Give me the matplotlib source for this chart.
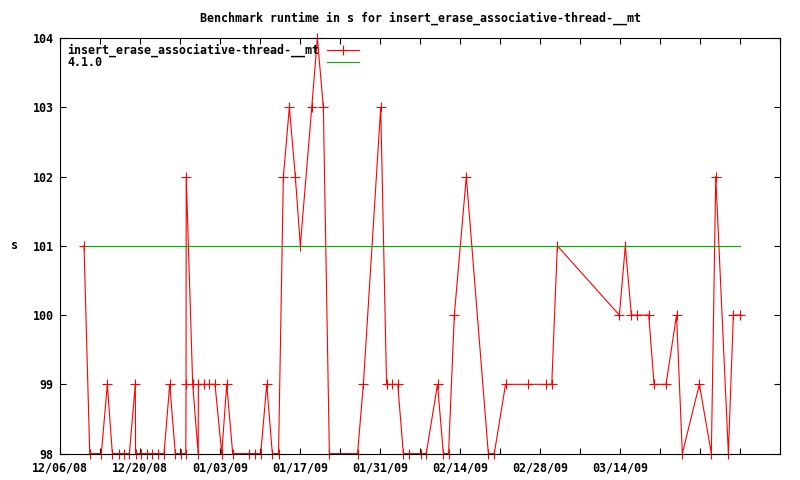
import matplotlib
matplotlib.use('Agg')
import matplotlib.pyplot as plt
import pandas as pd

# runtime samples (s)
dates = ['2008-12-10 03:30', '2008-12-11 03:30', '2008-12-13 04:15', '2008-12-14 05:30',
         '2008-12-15 02:30', '2008-12-16 05:15', '2008-12-17 03:30', '2008-12-18 02:00',
         '2008-12-19 03:00', '2008-12-19 04:00', '2008-12-20 04:15', '2008-12-21 03:00',
         '2008-12-22 02:30', '2008-12-23 03:30', '2008-12-24 03:30', '2008-12-25 03:30',
         '2008-12-26 03:00', '2008-12-27 03:00', '2008-12-27 23:00', '2008-12-28 00:00',
         '2008-12-28 00:45', '2008-12-29 04:00', '2008-12-30 03:00', '2008-12-30 03:40',
         '2008-12-31 03:30', '2009-01-01 02:00', '2009-01-02 01:40', '2009-01-03 06:00',
         '2009-01-04 03:00', '2009-01-05 04:00', '2009-01-08 02:00', '2009-01-09 02:40',
         '2009-01-10 01:40', '2009-01-11 03:00', '2009-01-12 02:30', '2009-01-13 04:30',
         '2009-01-14 00:45', '2009-01-15 02:00', '2009-01-16 03:00', '2009-01-17 00:00',
         '2009-01-19 00:00', '2009-01-19 23:30', '2009-01-21 00:45', '2009-01-22 02:00',
         '2009-01-27 00:15', '2009-01-28 00:45', '2009-01-31 01:40', '2009-02-01 02:10',
         '2009-02-02 02:30', '2009-02-03 01:10', '2009-02-04 00:45', '2009-02-05 02:00',
         '2009-02-07 01:40', '2009-02-08 00:45', '2009-02-10 00:15', '2009-02-11 00:45',
         '2009-02-11 22:30', '2009-02-12 22:50', '2009-02-15 01:10', '2009-02-18 21:40',
         '2009-02-19 22:30', '2009-02-21 22:00', '2009-02-25 21:40', '2009-02-28 22:50',
         '2009-03-02 00:00', '2009-03-02 23:30', '2009-03-13 20:00', '2009-03-14 21:00',
         '2009-03-15 22:20', '2009-03-16 23:30', '2009-03-18 23:20', '2009-03-19 21:40',
         '2009-03-22 00:00', '2009-03-23 20:10', '2009-03-24 20:25', '2009-03-27 20:00',
         '2009-03-29 22:20', '2009-03-30 16:50', '2009-04-01 21:50', '2009-04-02 18:40',
         '2009-04-03 21:40']
runtime = [101, 98, 98, 99,
           98, 98, 98, 98,
           99, 98, 98, 98,
           98, 98, 98, 99,
           98, 98, 98, 99,
           102, 99, 98, 99,
           99, 99, 99, 98,
           99, 98, 98, 98,
           98, 99, 98, 98,
           102, 103, 102, 101,
           103, 104, 103, 98,
           98, 99, 103, 99,
           99, 99, 98, 98,
           98, 98, 99, 98,
           98, 100, 102, 98,
           98, 99, 99, 99,
           99, 101, 100, 101,
           100, 100, 100, 99,
           99, 100, 98, 99,
           98, 102, 98, 100,
           100]

# reference version 4.1.0
ref_dates = ['2008-12-10 03:30', '2009-04-03 21:40']
ref_runtime = [101, 101]

xtick_dates = pd.date_range('2008-12-06', '2009-04-11', freq='7D')
xtick_labels = ['12/06/08', '', '12/20/08', '', '01/03/09', '', '01/17/09', '',
                '01/31/09', '', '02/14/09', '', '02/28/09', '', '03/14/09', '', '', '', '']
yticks = [98, 99, 100, 101, 102, 103, 104]

font = {'family': 'DejaVu Sans Mono', 'weight': 'bold', 'size': 8.4}

fig = plt.figure(figsize=(8, 4.8), dpi=100)
ax = fig.add_axes([0.0754, 0.055, 0.9, 0.8658])

ax.plot(pd.to_datetime(dates), runtime, color='#ff0000', lw=0.8, marker='+',
        ms=6.5, mew=0.8, clip_on=False)
ax.plot(pd.to_datetime(ref_dates), ref_runtime, color='#00b000', lw=0.8)

ax.set_xlim(pd.Timestamp('2008-12-06'), pd.Timestamp('2009-04-11'))
ax.set_ylim(98, 104)
ax.set_xticks(xtick_dates)
ax.set_xticklabels(xtick_labels, fontdict=font)
ax.set_yticks(yticks)
ax.set_yticklabels([str(v) for v in yticks], fontdict=font)
ax.tick_params(direction='in', length=4, width=0.8, top=True, right=True)
ax.tick_params(axis='x', pad=6)
ax.tick_params(axis='y', pad=5)
for s in ax.spines.values():
    s.set_linewidth(0.8)

ax.set_title('Benchmark runtime in s for insert_erase_associative-thread-__mt',
             fontdict=font, pad=12)
ax.text(-0.064, 0.5, 's', transform=ax.transAxes, fontdict=font, ha='center', va='center')

# key
ax.text(0.0093, 0.971, 'insert_erase_associative-thread-__mt', transform=ax.transAxes,
        fontdict=font, ha='left', va='center')
ax.text(0.0093, 0.942, '4.1.0', transform=ax.transAxes, fontdict=font, ha='left', va='center')
ax.plot([0.370, 0.415], [0.971, 0.971], color='#ff0000', lw=0.8, transform=ax.transAxes)
ax.plot([0.3926], [0.971], color='#ff0000', marker='+', ms=6.5, mew=0.8, transform=ax.transAxes)
ax.plot([0.370, 0.415], [0.942, 0.942], color='#00b000', lw=0.8, transform=ax.transAxes)

fig.savefig('out.png', dpi=100)
